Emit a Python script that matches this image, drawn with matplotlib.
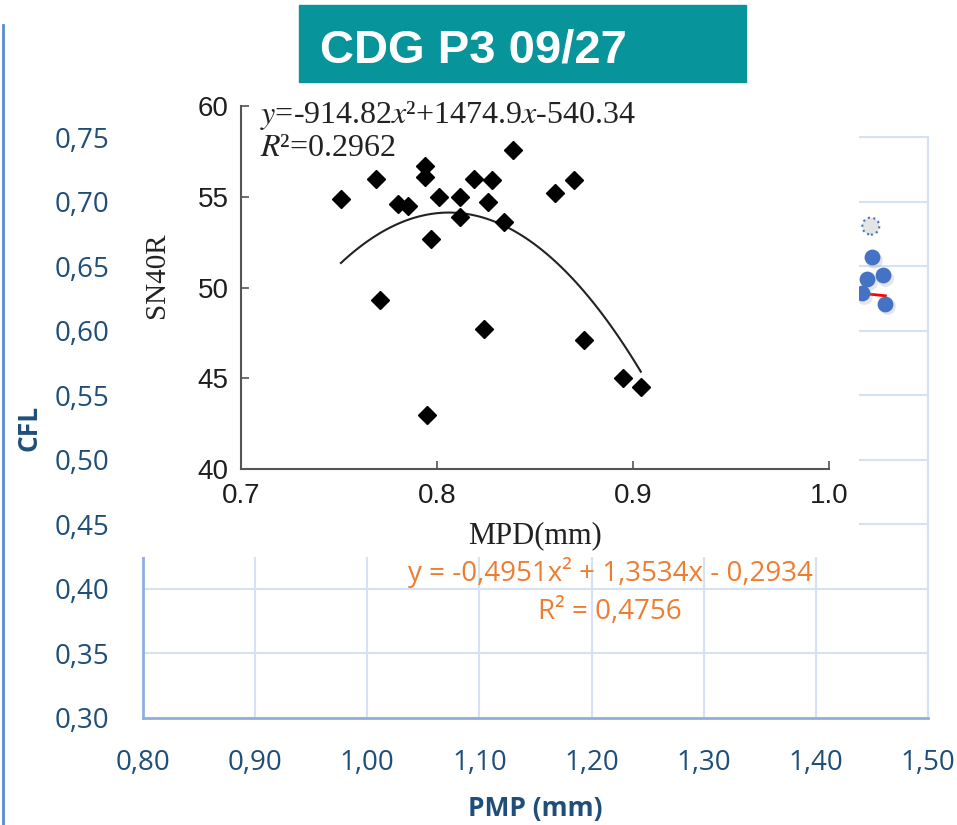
import numpy as np
import matplotlib.pyplot as plt
from matplotlib.patches import Rectangle
from matplotlib.lines import Line2D
from matplotlib.ticker import FuncFormatter

plt.rcParams['mathtext.fontset'] = 'stix'

# CFL vs PMP (background chart) - only the points right of the inset show
pmp = [1.441, 1.446, 1.450, 1.460, 1.462]
cfl = [0.629, 0.640, 0.657, 0.643, 0.621]
pmp_sel = [1.449]
cfl_sel = [0.681]
cfl_coef = [-0.4951, 1.3534, -0.2934]
cfl_fit_range = [1.00, 1.462]

# SN40R vs MPD (inset chart)
mpd = [0.751, 0.769, 0.771, 0.780, 0.785, 0.794, 0.794, 0.795, 0.797, 0.801,
       0.812, 0.812, 0.819, 0.824, 0.826, 0.828, 0.834, 0.839, 0.860, 0.870,
       0.875, 0.895, 0.904]
sn40r = [54.9, 56.0, 49.3, 54.6, 54.5, 56.7, 56.1, 43.0, 52.7, 55.0,
         55.0, 53.9, 56.0, 47.7, 54.7, 55.9, 53.6, 57.6, 55.2, 55.9,
         47.1, 45.0, 44.5]
sn_coef = [-914.82, 1474.9, -540.34]
sn_fit_range = [0.751, 0.904]

navy = '#1F4E79'
grid_c = '#D5E2F4'
axis_c = '#8EB0E0'

fig = plt.figure(figsize=(9.57, 8.25), dpi=100)

# ---- background chart
ax = fig.add_axes([0.1494, 0.1297, 0.8203, 0.7042])
ax.set_xlim(0.80, 1.50)
ax.set_ylim(0.30, 0.75)
ax.set_xticks([0.8, 0.9, 1.0, 1.1, 1.2, 1.3, 1.4, 1.5])
ax.set_yticks([0.30, 0.35, 0.40, 0.45, 0.50, 0.55, 0.60, 0.65, 0.70, 0.75])
comma = FuncFormatter(lambda v, p: f'{v:.2f}'.replace('.', ','))
ax.xaxis.set_major_formatter(comma)
ax.yaxis.set_major_formatter(comma)
ax.grid(True, color=grid_c, linewidth=1.5)
ax.set_axisbelow(True)
for s in ['top', 'right']:
    ax.spines[s].set_color(grid_c)
    ax.spines[s].set_linewidth(1.5)
for s in ['bottom', 'left']:
    ax.spines[s].set_color(axis_c)
    ax.spines[s].set_linewidth(2)
ax.tick_params(length=0, labelsize=20, labelcolor=navy)
ax.tick_params(axis='y', pad=24)
ax.tick_params(axis='x', pad=22)
for lab in ax.get_xticklabels() + ax.get_yticklabels():
    lab.set_fontfamily('Open Sans')
ax.set_xlabel('PMP (mm)', fontsize=19, fontweight='bold', color=navy,
              fontfamily='Open Sans', labelpad=13)
ax.set_ylabel('CFL', fontsize=19, fontweight='bold', color=navy,
              fontfamily='Open Sans')
ax.yaxis.set_label_coords(-0.128, 0.5)

xf = np.linspace(cfl_fit_range[0], cfl_fit_range[1], 100)
ax.plot(xf, np.polyval(cfl_coef, xf), color='red', linewidth=2, zorder=3)
# soft shadow under the markers
ax.scatter(np.array(pmp) + 0.0015, np.array(cfl) - 0.002, s=145,
           color='#999999', alpha=0.25, linewidths=0, zorder=3)
ax.scatter(pmp, cfl, s=130, color='#4472C4', linewidths=0, zorder=4)
ax.scatter(pmp_sel, cfl_sel, s=150, facecolor='#E4E4E4', edgecolor='#4472C4',
           linewidths=1.5, linestyle=':', zorder=4)

ax.text(1.2167, 0.4124, 'y = -0,4951x² + 1,3534x - 0,2934', color='#ED7D31',
        fontsize=20, fontfamily='Open Sans', ha='center', va='center', zorder=5)
ax.text(1.2167, 0.3822, 'R² = 0,4756', color='#ED7D31',
        fontsize=20, fontfamily='Open Sans', ha='center', va='center', zorder=5)

# ---- white panel holding the inset chart
bg = fig.add_axes([0.1484, 0.3248, 0.7492, 0.5685], zorder=2)
bg.set_facecolor('white')
bg.set_xticks([])
bg.set_yticks([])
for s in bg.spines.values():
    s.set_visible(False)

ins = fig.add_axes([0.2518, 0.4315, 0.6144, 0.44], zorder=3)
ins.set_facecolor('none')
ins.set_xlim(0.7, 1.0)
ins.set_ylim(40, 60)
ins.set_xticks([0.7, 0.8, 0.9, 1.0])
ins.set_yticks([40, 45, 50, 55, 60])
ins.xaxis.set_major_formatter(FuncFormatter(lambda v, p: f'{v:.1f}'))
for s in ['top', 'right']:
    ins.spines[s].set_visible(False)
for s in ['bottom', 'left']:
    ins.spines[s].set_color('#555555')
    ins.spines[s].set_linewidth(1.5)
ins.tick_params(direction='in', length=6, width=1.2, color='#555555',
                labelsize=20, labelcolor='#1E1E1E')
ins.tick_params(axis='y', pad=9)
ins.tick_params(axis='x', pad=10)
for lab in ins.get_xticklabels() + ins.get_yticklabels():
    lab.set_fontfamily('Liberation Sans')
ins.set_xlabel('MPD(mm)', fontsize=22, fontfamily='Liberation Serif',
               color='#222222', labelpad=9)
ins.set_ylabel('SN40R', fontsize=21, fontfamily='Liberation Serif',
               color='#222222')
ins.yaxis.set_label_coords(-0.121, 0.534)

xs = np.linspace(sn_fit_range[0], sn_fit_range[1], 100)
ins.plot(xs, np.polyval(sn_coef, xs), color='#222222', linewidth=1.5)
ins.plot(mpd, sn40r, 'D', color='black', markersize=9, linestyle='none')

ins.text(0.032, 0.975, r'$y$=-914.82$x$²+1474.9$x$-540.34', transform=ins.transAxes,
         fontsize=23, fontfamily='Liberation Serif', color='#222222', va='center')
ins.text(0.032, 0.884, r'$R$²=0.2962', transform=ins.transAxes,
         fontsize=23, fontfamily='Liberation Serif', color='#222222', va='center')

# ---- title box and page edge
fig.patches.append(Rectangle((0.3124, 0.9006), 0.4671, 0.0933,
                             transform=fig.transFigure, color='#07949A', zorder=4))
fig.text(0.3344, 0.9248, 'CDG P3 09/27', color='white', fontsize=34,
         fontweight='bold', fontfamily='Liberation Sans', va='baseline', zorder=5)
fig.lines.append(Line2D([0.0035, 0.0035], [0.0, 0.97], transform=fig.transFigure,
                        color='#5B8BD0', linewidth=2))

fig.savefig('out.png', dpi=100)
